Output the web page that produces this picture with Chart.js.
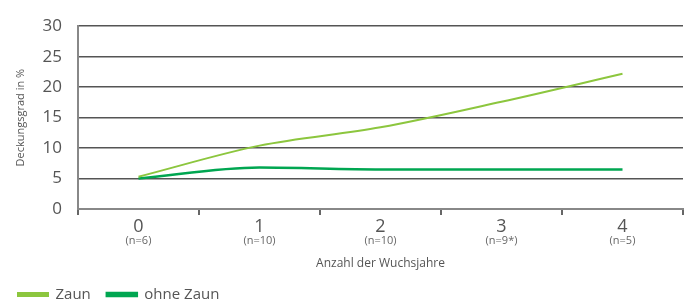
<!DOCTYPE html>
<html>
<head>
<meta charset="utf-8">
<script src="https://cdn.jsdelivr.net/npm/chart.js@4"></script>
<style>
  html, body { margin: 0; padding: 0; background: #fff; }
  #wrap { width: 693px; height: 302px; }
</style>
</head>
<body>
<div id="wrap"><canvas id="chart"></canvas></div>
<script>
// Daten
var jahre = ["0", "1", "2", "3", "4"];
var anzahl = ["(n=6)", "(n=10)", "(n=10)", "(n=9*)", "(n=5)"];
var zaun = [5.3, 10.4, 13.4, 17.6, 22.2];
var ohneZaun = [5.0, 6.8, 6.5, 6.5, 6.5];

var schrift = "'Open Sans', 'Noto Sans', sans-serif";

// (n=..) unter den Jahreszahlen
var nLabels = {
    id: 'nLabels',
    afterDraw: function (chart) {
        var ctx = chart.ctx;
        var x = chart.scales.x;
        ctx.save();
        ctx.font = "11px " + schrift;
        ctx.fillStyle = "#666";
        ctx.textAlign = "center";
        ctx.textBaseline = "middle";
        anzahl.forEach(function (t, i) {
            ctx.fillText(t, x.getPixelForValue(i), x.top + 32);
        });
        ctx.restore();
    }
};

var ctx = document.getElementById("chart").getContext('2d');
new Chart(ctx, {
    type: "line",
    data: {
        labels: jahre,
        datasets: [{
            label: "Zaun",
            data: zaun,
            borderColor: "#8cc63e",
            backgroundColor: "#8cc63e",
            borderWidth: 2,
            pointRadius: 0,
            cubicInterpolationMode: "monotone"
        }, {
            label: "ohne Zaun",
            data: ohneZaun,
            borderColor: "#00a651",
            backgroundColor: "#00a651",
            borderWidth: 2.5,
            pointRadius: 0,
            cubicInterpolationMode: "monotone"
        }]
    },
    options: {
        responsive: true,
        maintainAspectRatio: false,
        animation: false,
        layout: { padding: { top: 21, right: 10, left: 2, bottom: -10 } },
        plugins: {
            tooltip: { enabled: false },
            legend: {
                position: "bottom",
                align: "start",
                labels: {
                    boxWidth: 30,
                    boxHeight: 3,
                    padding: 16,
                    color: "#555",
                    font: { family: schrift, size: 15 }
                }
            }
        },
        scales: {
            x: {
                offset: true,
                grid: {
                    offset: true,
                    drawOnChartArea: true,
                    color: function (c) { return c.index === jahre.length ? "#888" : "rgba(0,0,0,0)"; },
                    lineWidth: 2,
                    tickColor: "#666",
                    tickLength: 6
                },
                border: { color: "#888", width: 2 },
                ticks: {
                    color: "#555",
                    padding: 1,
                    font: { family: schrift, size: 18 }
                },
                title: {
                    display: true,
                    text: "Anzahl der Wuchsjahre",
                    color: "#555",
                    font: { family: schrift, size: 12 },
                    padding: { top: 0, bottom: 0 }
                },
                afterFit: function (s) { s.height = 62; }
            },
            y: {
                min: 0,
                max: 30,
                ticks: {
                    stepSize: 5,
                    color: "#555",
                    padding: 16,
                    font: { family: schrift, size: 17 }
                },
                grid: {
                    color: "#555",
                    lineWidth: 1.5,
                    drawTicks: false
                },
                border: { color: "#888", width: 2 },
                title: {
                    display: true,
                    text: "Deckungsgrad in %",
                    color: "#555",
                    font: { family: schrift, size: 11 },
                    padding: { top: 12, bottom: 0 }
                },
                afterFit: function (s) { s.width = 76; }
            }
        }
    },
    plugins: [nLabels]
});
</script>
</body>
</html>
